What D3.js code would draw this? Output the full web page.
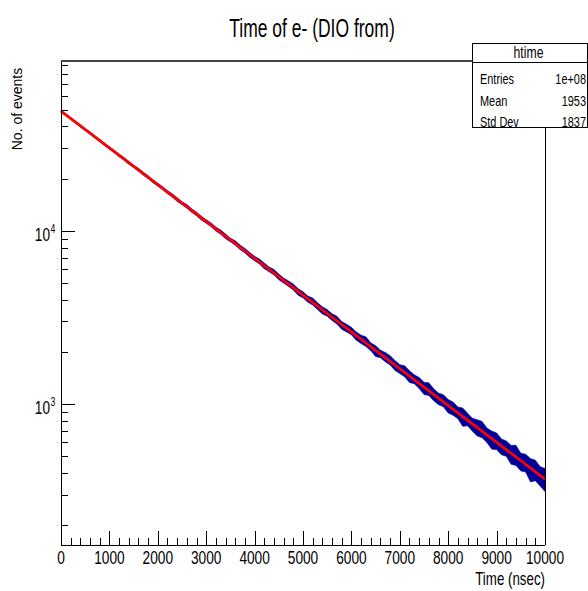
<!DOCTYPE html>
<html><head><meta charset="utf-8">
<script src="https://cdn.jsdelivr.net/npm/d3@7"></script>
<style>body{margin:0;background:#fff} svg{display:block}</style>
</head><body><svg id="c" width="588" height="591"></svg>
<script>
// ---- data ----
const timeGrid = [0,100,200,300,400,500,600,700,800,900,1000,1100,1200,1300,1400,1500,1600,1700,1800,1900,
2000,2100,2200,2300,2400,2500,2600,2700,2800,2900,3000,3100,3200,3300,3400,3500,3600,3700,3800,3900,
4000,4100,4200,4300,4400,4500,4600,4700,4800,4900,5000,5100,5200,5300,5400,5500,5600,5700,5800,5900,
6000,6100,6200,6300,6400,6500,6600,6700,6800,6900,7000,7100,7200,7300,7400,7500,7600,7700,7800,7900,
8000,8100,8200,8300,8400,8500,8600,8700,8800,8900,9000,9100,9200,9300,9400,9500,9600,9700,9800,9900,10000];
const bandHigh = [49509,47270,44885,42942,40810,38760,37190,35265,33650,31970,
30473,29116,27624,26461,25134,23853,22933,21721,20737,19689,
18772,17951,17014,16324,15493,14690,14161,13392,12794,12138,
11575,11082,10490,10085,9563,9056,8757,8267,7905,7491,
7122,6860,6507,6172,5980,5619,5327,5133,4921,4631,
4439,4194,4091,3834,3637,3508,3316,3211,2992,2883,
2769,2607,2495,2441,2254,2172,2045,1984,1902,1785,
1686,1662,1555,1473,1423,1336,1326,1226,1156,1132,
1061,1027,960,948,885,828,811,793,726,698,
681,629,612,577,578,520,513,484,474,435,425];
const bandLow = [48380,46190,43789,41810,39626,37859,36119,34258,32685,30992,
29589,28270,26766,25575,24206,23147,22095,20932,19982,18924,
18079,17289,16342,15630,14766,14137,13504,12774,12202,11538,
11033,10563,9963,9541,8994,8623,8243,7783,7441,7022,
6705,6429,6031,5799,5556,5213,4989,4767,4550,4236,
4100,3869,3724,3512,3312,3213,3034,2897,2697,2606,
2509,2332,2232,2146,2031,1878,1850,1751,1678,1563,
1498,1435,1330,1309,1227,1134,1118,1046,991,964,
888,862,822,743,748,697,654,639,600,549,
546,509,499,449,442,411,405,355,361,336,313];
const fitTimes = [0,2500,5000,7500,10000];
const fitCounts = [48978,14430,4250,1252,368.6];
const xTickValues = [0,1000,2000,3000,4000,5000,6000,7000,8000,9000,10000];
const xTickLabels = ["0","1000","2000","3000","4000","5000","6000","7000","8000","9000","10000"];
const yDecades = [1000,10000];
const yDecadeExp = ["3","4"];
const statsNames = ["Entries","Mean","Std Dev"];
const statsValues = ["1e+08","1953","1837"];

// ---- layout ----
const L = 61, R = 545, T = 61, B = 545;
const svg = d3.select("#c");
const x = d3.scaleLinear().domain([0,10000]).range([L,R]);
const y = d3.scaleLog().domain([153.6,95370]).range([B,T]);
const FONT = "'Liberation Sans', Arial, Helvetica, sans-serif";
const SX = 0.72;

function ctext(g, px, py, str, size, anchor, sx) {
  return g.append("text")
    .attr("transform", `translate(${px},${py}) scale(${sx===undefined?SX:sx},1)`)
    .attr("text-anchor", anchor || "start")
    .style("font-family", FONT).style("font-size", size + "px")
    .attr("fill", "#000").text(str);
}

// band (histogram envelope)
const pts = timeGrid.map((t,i) => ({t, hi: bandHigh[i], lo: bandLow[i]}));
svg.append("path").datum(pts)
  .attr("d", d3.area().x(d => x(d.t)).y0(d => y(d.lo)).y1(d => y(d.hi)))
  .attr("fill", "#000099").attr("stroke", "#000099").attr("stroke-width", 0.6);

// fit
svg.append("path").datum(fitTimes.map((t,i) => ({t, v: fitCounts[i]})))
  .attr("d", d3.line().x(d => x(d.t)).y(d => y(d.v)))
  .attr("fill", "none").attr("stroke", "#ff0000").attr("stroke-width", 2.6);

// frame
const ax = svg.append("g").attr("stroke", "#000").attr("stroke-width", 1).attr("shape-rendering", "crispEdges");
ax.append("line").attr("x1", L).attr("x2", L).attr("y1", T).attr("y2", B);
ax.append("line").attr("x1", L).attr("x2", R).attr("y1", B).attr("y2", B);
ax.append("line").attr("x1", R).attr("x2", R).attr("y1", T).attr("y2", B);
svg.append("line").attr("x1", L).attr("x2", R).attr("y1", T).attr("y2", T)
  .attr("stroke", "#444").attr("stroke-width", 2);

// x ticks
const xMinor = d3.range(0, 10001, 200).filter(v => v % 1000 !== 0);
xTickValues.forEach(v => ax.append("line").attr("x1", Math.round(x(v))+0.5).attr("x2", Math.round(x(v))+0.5).attr("y1", B).attr("y2", B-14));
xMinor.forEach(v => ax.append("line").attr("x1", Math.round(x(v))+0.5).attr("x2", Math.round(x(v))+0.5).attr("y1", B).attr("y2", B-7));
const lab = svg.append("g");
xTickValues.forEach((v,i) => ctext(lab, x(v), 564, xTickLabels[i], 19, "middle"));
ctext(lab, R, 585, "Time (nsec)", 18, "end", 0.74);

// y ticks
const yMinor = [];
[100,1000,10000].forEach(d => { for (let m = 2; m <= 9; m++) { const v = m*d; if (v >= 153.6 && v <= 95370) yMinor.push(v); } });
yDecades.forEach(v => ax.append("line").attr("x1", L).attr("x2", L+14).attr("y1", Math.round(y(v))+0.5).attr("y2", Math.round(y(v))+0.5));
yMinor.forEach(v => ax.append("line").attr("x1", L).attr("x2", L+7).attr("y1", Math.round(y(v))+0.5).attr("y2", Math.round(y(v))+0.5));
yDecades.forEach((v,i) => {
  ctext(lab, 50, y(v)+10, "10", 19, "end");
  ctext(lab, 50.5, y(v)+2, yDecadeExp[i], 12, "start");
});

// y title
svg.append("text").attr("transform", "translate(22,109) rotate(-90)")
  .attr("text-anchor", "middle")
  .style("font-family", FONT).style("font-size", "14px").text("No. of events");

// title
ctext(svg, 312, 37, "Time of e- (DIO from)", 25, "middle", 0.70);

// stats box
const bx = 472, by = 43, bw = 115, bh = 84;
const sb = svg.append("g");
sb.append("rect").attr("x", bx+0.5).attr("y", by+0.5).attr("width", bw).attr("height", bh)
  .attr("fill", "#fff").attr("stroke", "#000").attr("stroke-width", 1);
sb.append("line").attr("x1", bx).attr("x2", bx+bw).attr("y1", 62.5).attr("y2", 62.5).attr("stroke", "#000");
ctext(sb, bx + bw/2 - 1, 58, "htime", 17, "middle");
statsNames.forEach((n,i) => {
  const yy = 84 + i*21.5;
  ctext(sb, bx+8, yy, n, 14, "start", 0.78);
  ctext(sb, bx+bw-1, yy, statsValues[i], 14, "end", 0.78);
});
</script></body></html>
